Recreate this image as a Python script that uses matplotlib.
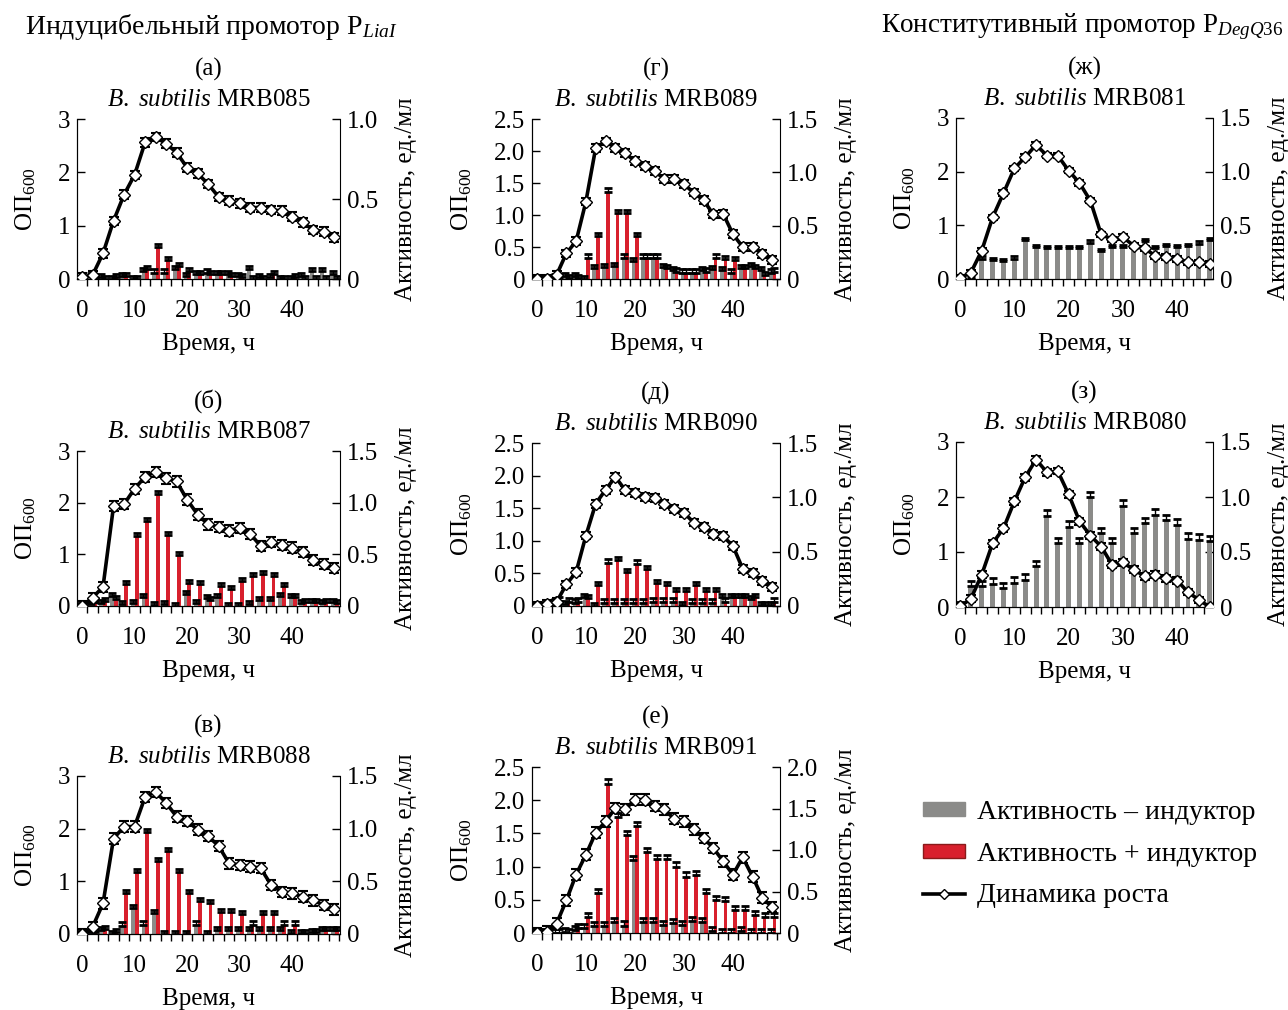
import numpy as np
import matplotlib
matplotlib.use('Agg')
from matplotlib import pyplot as plt
from matplotlib.patches import Patch
from matplotlib.lines import Line2D
from matplotlib.ticker import FuncFormatter, FixedLocator

plt.rcParams['font.family'] = ['Liberation Serif', 'DejaVu Serif']
plt.rcParams['mathtext.fontset'] = 'custom'
plt.rcParams['mathtext.rm'] = 'Liberation Serif'
plt.rcParams['mathtext.it'] = 'Liberation Serif:italic'

# time points, h
hours = [0, 2, 4, 6, 8, 10, 12, 14, 16, 18, 20, 22, 24, 26, 28, 30, 32, 34, 36, 38, 40, 42, 44, 46, 48]
hours_const = [0, 2, 4, 6, 8, 10, 12, 14, 16, 18, 20, 22, 24, 26, 28, 30, 32, 34, 36, 38, 40, 42, 44, 46]

# (а) MRB085
od_085 = [0.04, 0.07, 0.48, 1.09, 1.58, 1.95, 2.56, 2.66, 2.54, 2.37, 2.09, 1.98, 1.78, 1.54, 1.47, 1.42, 1.34, 1.34, 1.29, 1.28, 1.17, 1.06, 0.92, 0.89, 0.78]
minus_085 = [0, 0.02, 0.01, 0, 0.02, 0, 0.05, 0.04, 0.04, 0.06, 0.02, 0.03, 0.04, 0.03, 0.03, 0.02, 0.06, 0.01, 0.01, 0, 0, 0.02, 0.05, 0.05, 0.03]
plus_085 = [0, 0, 0, 0.01, 0.02, 0, 0.06, 0.2, 0.12, 0.08, 0.05, 0.03, 0.03, 0.03, 0.02, 0.01, 0, 0, 0.03, 0, 0.01, 0, 0, 0, 0]

# (б) MRB087
od_087 = [0, 0.16, 0.37, 1.93, 1.97, 2.27, 2.5, 2.6, 2.47, 2.41, 2.06, 1.77, 1.58, 1.53, 1.46, 1.51, 1.4, 1.16, 1.24, 1.18, 1.13, 1.05, 0.89, 0.81, 0.74]
minus_087 = [0, 0.02, 0.03, 0.1, 0.02, 0.03, 0.09, 0.01, 0.02, 0, 0.12, 0.03, 0.08, 0.09, 0, 0, 0.02, 0.06, 0.06, 0.1, 0.09, 0.03, 0.04, 0.03, 0.04]
plus_087 = [0, 0.05, 0.05, 0.07, 0.21, 0.68, 0.82, 1.08, 0.69, 0.49, 0.22, 0.21, 0.06, 0.19, 0.16, 0.24, 0.29, 0.31, 0.29, 0.19, 0.09, 0.04, 0.04, 0.04, 0.03]

# (в) MRB088
od_088 = [0, 0.13, 0.58, 1.81, 2.04, 2.04, 2.6, 2.7, 2.49, 2.23, 2.15, 1.98, 1.86, 1.67, 1.34, 1.31, 1.28, 1.25, 0.93, 0.8, 0.77, 0.71, 0.64, 0.55, 0.47]
minus_088 = [0, 0.02, 0.04, 0, 0.08, 0.25, 0.09, 0.2, 0, 0, 0, 0.09, 0, 0.04, 0.04, 0.04, 0.04, 0.04, 0.04, 0.04, 0.01, 0.01, 0.02, 0.04, 0.04]
plus_088 = [0, 0.02, 0.05, 0.02, 0.39, 0.59, 0.97, 0.69, 0.79, 0.59, 0.39, 0.31, 0.29, 0.21, 0.21, 0.19, 0.09, 0.19, 0.19, 0.09, 0.09, 0.01, 0.02, 0.04, 0.04]

# (г) MRB089
od_089 = [0, 0, 0.06, 0.4, 0.59, 1.21, 2.05, 2.15, 2.05, 1.97, 1.84, 1.77, 1.69, 1.56, 1.56, 1.48, 1.35, 1.23, 1.01, 1.02, 0.7, 0.5, 0.5, 0.39, 0.3]
minus_089 = [0, 0.01, 0.02, 0.03, 0.03, 0, 0.1, 0.11, 0.12, 0.2, 0.17, 0.2, 0.2, 0.11, 0.08, 0.06, 0.06, 0.08, 0.09, 0.08, 0.06, 0.1, 0.12, 0.08, 0.06]
plus_089 = [0, 0, 0.01, 0.01, 0.01, 0.2, 0.4, 0.82, 0.62, 0.62, 0.4, 0.2, 0.2, 0.1, 0.07, 0.06, 0.06, 0.07, 0.2, 0.19, 0.18, 0.1, 0.1, 0.04, 0.07]

# (д) MRB090
od_090 = [0, 0.03, 0.06, 0.33, 0.52, 1.08, 1.57, 1.78, 1.98, 1.78, 1.73, 1.67, 1.66, 1.56, 1.49, 1.43, 1.28, 1.21, 1.1, 1.07, 0.92, 0.57, 0.5, 0.38, 0.29]
minus_090 = [0, 0.01, 0.03, 0.02, 0.03, 0.08, 0, 0.03, 0.03, 0.03, 0.03, 0.03, 0.04, 0.04, 0.04, 0.01, 0.03, 0.03, 0.03, 0.08, 0.08, 0.08, 0.06, 0.01, 0.01]
plus_090 = [0, 0, 0.05, 0.04, 0.04, 0.07, 0.19, 0.4, 0.42, 0.31, 0.39, 0.34, 0.21, 0.19, 0.14, 0.14, 0.19, 0.14, 0.14, 0.04, 0.08, 0.08, 0.08, 0.01, 0.04]

# (е) MRB091
od_091 = [0, 0.02, 0.14, 0.49, 0.88, 1.18, 1.51, 1.68, 1.88, 1.86, 2.01, 2.01, 1.91, 1.86, 1.72, 1.68, 1.56, 1.43, 1.28, 1.08, 0.88, 1.14, 0.85, 0.53, 0.39]
minus_091 = [0, 0, 0, 0.01, 0.04, 0.06, 0.08, 0.08, 0.13, 0.09, 0.88, 0.13, 0.13, 0.1, 0.12, 0.1, 0.14, 0.13, 0.02, 0, 0, 0.02, 0, 0, 0]
plus_091 = [0, 0, 0, 0, 0.06, 0.19, 0.48, 1.8, 1.4, 1.18, 1.29, 0.98, 0.89, 0.89, 0.8, 0.68, 0.7, 0.48, 0.4, 0.38, 0.28, 0.28, 0.22, 0.19, 0.19]

# (ж) MRB081
od_081 = [0.02, 0.12, 0.53, 1.15, 1.6, 2.06, 2.27, 2.5, 2.3, 2.3, 2.02, 1.79, 1.46, 0.83, 0.74, 0.78, 0.62, 0.57, 0.43, 0.41, 0.37, 0.31, 0.31, 0.28]
minus_081 = [0, 0, 0.19, 0.18, 0.17, 0.19, 0.36, 0.3, 0.29, 0.29, 0.29, 0.29, 0.34, 0.26, 0.3, 0.3, 0.29, 0.35, 0.29, 0.31, 0.3, 0.31, 0.33, 0.36]

# (з) MRB080
od_080 = [0.01, 0.15, 0.59, 1.16, 1.43, 1.92, 2.36, 2.68, 2.45, 2.47, 2.05, 1.56, 1.3, 1.1, 0.77, 0.81, 0.68, 0.56, 0.59, 0.52, 0.48, 0.27, 0.13, 0.0]
minus_080 = [0, 0.19, 0.19, 0.21, 0.17, 0.22, 0.25, 0.37, 0.83, 0.58, 0.73, 0.58, 1.0, 0.67, 0.58, 0.92, 0.67, 0.76, 0.84, 0.79, 0.75, 0.62, 0.61, 0.6]

letters = ['(а)', '(б)', '(в)', '(г)', '(д)', '(е)', '(ж)', '(з)']
strains = ['MRB085', 'MRB087', 'MRB088', 'MRB089', 'MRB090', 'MRB091', 'MRB081', 'MRB080']

GREY = '#8b8b89'
RED = '#d8202d'
W, H = 1288, 1010

fig = plt.figure(figsize=(W / 100, H / 100), dpi=100)


def fmt_tick(v, pos):
    if abs(v) < 1e-9:
        return '0'
    return '%.1f' % v


def fig_text(x, y, s, **kw):
    fig.text(x / W, 1 - y / H, s, **kw)


def draw_panel(box, letter, strain, t, od, minus, plus, od_max, act_max, xlim,
               od_err, act_err):
    left, top, right, bottom = box
    ax = fig.add_axes([left / W, 1 - bottom / H, (right - left) / W, (bottom - top) / H])
    ax2 = ax.twinx()
    ax.set_zorder(ax2.get_zorder() + 1)
    ax.patch.set_visible(False)
    t = np.array(t)
    up = [np.zeros(len(t)), np.full(len(t), act_err)]

    if plus is None:
        ax2.bar(t, minus, width=0.9, color=GREY, zorder=2)
        ax2.errorbar(t, minus, yerr=up, fmt='none', ecolor='k', elinewidth=1,
                     capsize=3, capthick=2, zorder=3)
    else:
        ax2.bar(t - 0.3, minus, width=0.75, color=GREY, zorder=2)
        ax2.bar(t + 0.45, plus, width=0.75, color=RED, zorder=2)
        ax2.errorbar(t - 0.3, minus, yerr=up, fmt='none', ecolor='k', elinewidth=1,
                     capsize=3, capthick=2, zorder=3)
        ax2.errorbar(t + 0.45, plus, yerr=up, fmt='none', ecolor='k', elinewidth=1,
                     capsize=3, capthick=2, zorder=3)

    ax.errorbar(t, od, yerr=od_err, fmt='none', ecolor='k', elinewidth=1,
                capsize=3.5, capthick=1.5, zorder=3)
    ax.plot(t, od, '-', color='k', lw=2.6, marker='D', ms=6, mfc='w',
            mec='k', mew=1, zorder=4)

    ax.set_xlim(*xlim)
    ax.set_ylim(0, od_max)
    ax2.set_ylim(0, act_max)

    for a in (ax, ax2):
        a.spines['top'].set_visible(False)
    ax.spines['right'].set_visible(False)

    if od_max == 3:
        ax.set_yticks([0, 1, 2, 3])
    else:
        ax.set_yticks([0, 0.5, 1.0, 1.5, 2.0, 2.5])
        ax.yaxis.set_major_formatter(FuncFormatter(fmt_tick))
    ax2.set_yticks(np.arange(0, act_max + 0.01, 0.5))
    ax2.yaxis.set_major_formatter(FuncFormatter(fmt_tick))

    ax.set_xticks([0, 10, 20, 30, 40])
    ax.xaxis.set_minor_locator(FixedLocator(np.arange(1, xlim[1], 2)))
    ax.tick_params(axis='x', which='major', length=0, pad=15, labelsize=18)
    ax.tick_params(axis='x', which='minor', direction='out', length=5, width=1)
    ax.tick_params(axis='y', direction='in', length=6, width=1, labelsize=18, pad=5)
    ax2.tick_params(axis='y', direction='in', length=6, width=1, labelsize=18, pad=5)

    ax.set_xlabel('Время, ч', fontsize=18, labelpad=8)
    ax.set_ylabel('ОП$_{600}$', fontsize=18, labelpad=14)
    ax2.set_ylabel('Активность, ед./мл', fontsize=18, labelpad=12)

    cx = (left + right) / 2
    fig_text(cx, top - 50, letter, ha='center', va='center', fontsize=18)
    fig_text(cx, top - 19, r'$\mathit{B.\ subtilis}$ ' + strain, ha='center',
             va='center', fontsize=18)
    return ax, ax2


col1 = (-0.95, 49.1)
col2 = (-1.0, 49.6)
col3 = (-0.75, 46.6)

draw_panel((77, 119, 340, 279), letters[0], strains[0], hours, od_085, minus_085, plus_085, 3, 1.0, col1, 0.08, 0.02)
draw_panel((77, 451, 340, 606), letters[1], strains[1], hours, od_087, minus_087, plus_087, 3, 1.5, col1, 0.1, 0.03)
draw_panel((77, 776, 340, 934), letters[2], strains[2], hours, od_088, minus_088, plus_088, 3, 1.5, col1, 0.1, 0.03)
draw_panel((532, 119, 780, 279), letters[3], strains[3], hours, od_089, minus_089, plus_089, 2.5, 1.5, col2, 0.06, 0.03)
draw_panel((532, 443, 780, 606), letters[4], strains[4], hours, od_090, minus_090, plus_090, 2.5, 1.5, col2, 0.06, 0.03)
draw_panel((532, 767, 780, 933), letters[5], strains[5], hours, od_091, minus_091, plus_091, 2.5, 2.0, col2, 0.08, 0.05)
draw_panel((956, 118, 1213, 279), letters[6], strains[6], hours_const, od_081, minus_081, None, 3, 1.5, col3, 0.05, 0.02)
draw_panel((956, 442, 1213, 607), letters[7], strains[7], hours_const, od_080, minus_080, None, 3, 1.5, col3, 0.06, 0.05)

fig_text(25, 27, r'Индуцибельный промотор P$_{\mathit{LiaI}}$', ha='left', va='center', fontsize=20)
fig_text(1283, 27, r'Конститутивный промотор P$_{\mathit{DegQ36}}$', ha='right', va='center', fontsize=19.5)

handles = [
    Patch(facecolor=GREY, edgecolor=GREY),
    Patch(facecolor=RED, edgecolor='#8a1a1a'),
    Line2D([], [], color='k', lw=2.6, marker='D', ms=5, mfc='w', mec='k', mew=1),
]
labels = ['Активность – индуктор', 'Активность + индуктор', 'Динамика роста']
fig.legend(handles, labels, loc='upper left', bbox_to_anchor=(898 / W, 1 - 775 / H),
           frameon=False, fontsize=20, handlelength=1.5, handleheight=0.4,
           labelspacing=0.6, handletextpad=0.45)

fig.savefig('out.png', dpi=100)
